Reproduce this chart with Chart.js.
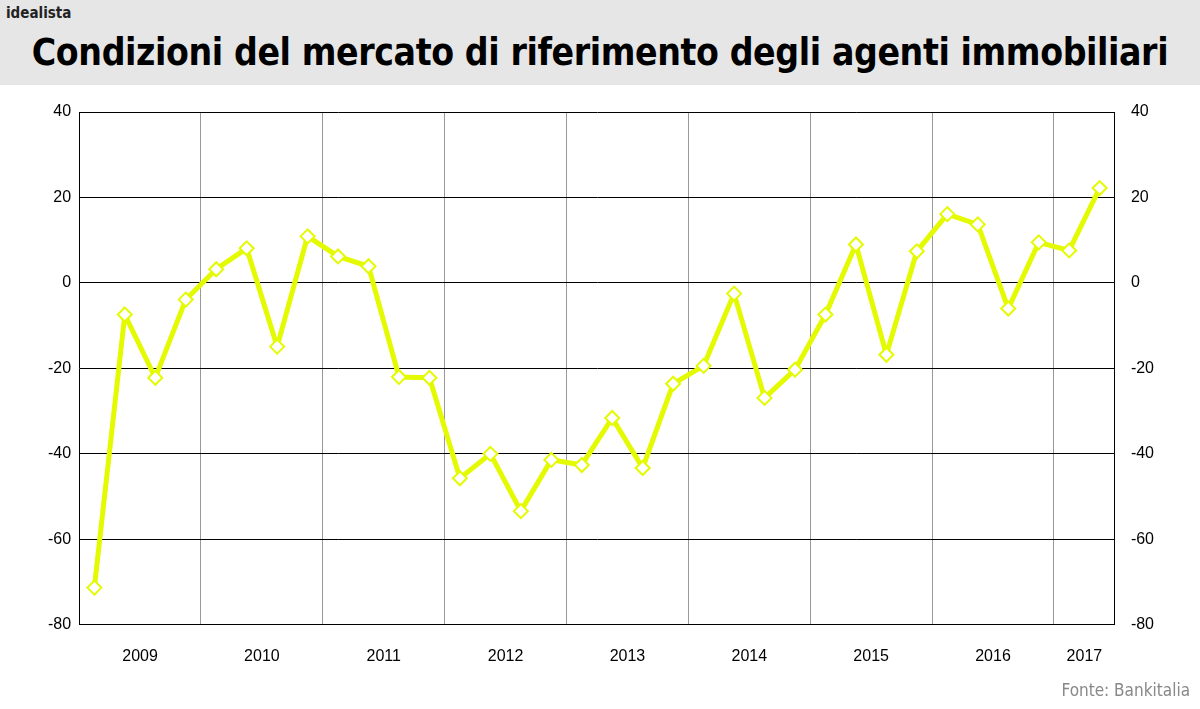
<!DOCTYPE html>
<html><head><meta charset="utf-8">
<script src="https://cdn.jsdelivr.net/npm/chart.js@4"></script>
<style>
body{margin:0;width:1200px;height:709px;background:#fff;position:relative;overflow:hidden;font-family:"Liberation Sans",Arial,sans-serif}
#head{position:absolute;left:0;top:0;width:1200px;height:85px;background:#e6e6e6}
#brand{position:absolute;left:6px;top:4px;font:bold 15px "DejaVu Sans Condensed","DejaVu Sans";color:#222}
#title{position:absolute;left:0;width:1200px;top:31px;text-align:center;font:bold 37px "DejaVu Sans Condensed","DejaVu Sans";color:#000;letter-spacing:-0.4px}
#src{position:absolute;right:10px;top:680px;font:17px "DejaVu Sans Condensed","DejaVu Sans";color:#888}
#box{position:absolute;left:0;top:85px;width:1200px;height:605px}
</style></head><body>
<div id="head"><div id="brand">idealista</div><div id="title">Condizioni del mercato di riferimento degli agenti immobiliari</div></div>
<div id="box"><canvas id="c"></canvas></div>
<div id="src">Fonte: Bankitalia</div>
<script>
// valori trimestrali 2009 T1 - 2017 T2
const values = [-71.3, -7.4, -22.2, -3.9, 3.2, 8.1, -14.9, 10.9, 6.2, 3.9, -22.0, -22.2,
  -45.7, -40.0, -53.4, -41.4, -42.6, -31.6, -43.3, -23.6, -19.4, -2.5, -26.9, -20.3,
  -7.4, 9.0, -16.8, 7.4, 16.1, 13.7, -6.0, 9.5, 7.6, 22.2];
const years = ['2009', '2010', '2011', '2012', '2013', '2014', '2015', '2016', '2017'];
const yearCenters = [1.5, 5.5, 9.5, 13.5, 17.5, 21.5, 25.5, 29.5, 32.5];
const yearBounds = [3.5, 7.5, 11.5, 15.5, 19.5, 23.5, 27.5, 31.5];
const yTicks = [40, 20, 0, -20, -40, -60, -80];

const tickFont = {family: '"Liberation Sans", Arial', size: 16};
const points = values.map((v, i) => ({x: i, y: v}));

new Chart(document.getElementById('c'), {
  type: 'line',
  data: {datasets: [{
    data: points, borderColor: '#e4fa00', borderWidth: 5, tension: 0,
    pointStyle: 'rectRot', pointRadius: 7, pointBorderWidth: 2,
    pointBackgroundColor: '#fff', pointBorderColor: '#e4fa00'
  }]},
  options: {
    responsive: true, maintainAspectRatio: false, animation: false,
    layout: {padding: {left: 40, right: 38, top: 27, bottom: 10}},
    plugins: {legend: {display: false}, tooltip: {enabled: false}},
    scales: {
      x: {type: 'linear', min: -0.5, max: 33.5,
        afterBuildTicks: s => { s.ticks = yearCenters.map(v => ({value: v})); },
        ticks: {callback: (v, i) => years[i], color: '#000', font: tickFont, autoSkip: false, maxRotation: 0, padding: 14},
        grid: {display: false}, border: {color: '#000'}},
      xg: {type: 'linear', min: -0.5, max: 33.5, display: true, position: 'bottom',
        afterBuildTicks: s => { s.ticks = yearBounds.map(v => ({value: v})); },
        ticks: {display: false}, grid: {color: '#999', drawTicks: false}, border: {display: false}},
      y: {min: -80, max: 40,
        afterBuildTicks: s => { s.ticks = yTicks.map(v => ({value: v})); },
        ticks: {color: '#000', font: tickFont, padding: 8},
        grid: {color: '#000', drawTicks: false}, border: {color: '#000'}},
      y2: {position: 'right', min: -80, max: 40,
        afterBuildTicks: s => { s.ticks = yTicks.map(v => ({value: v})); },
        ticks: {color: '#000', font: tickFont, padding: 8},
        grid: {display: false}, border: {color: '#000'}}
    }
  }
});
</script>
</body></html>
